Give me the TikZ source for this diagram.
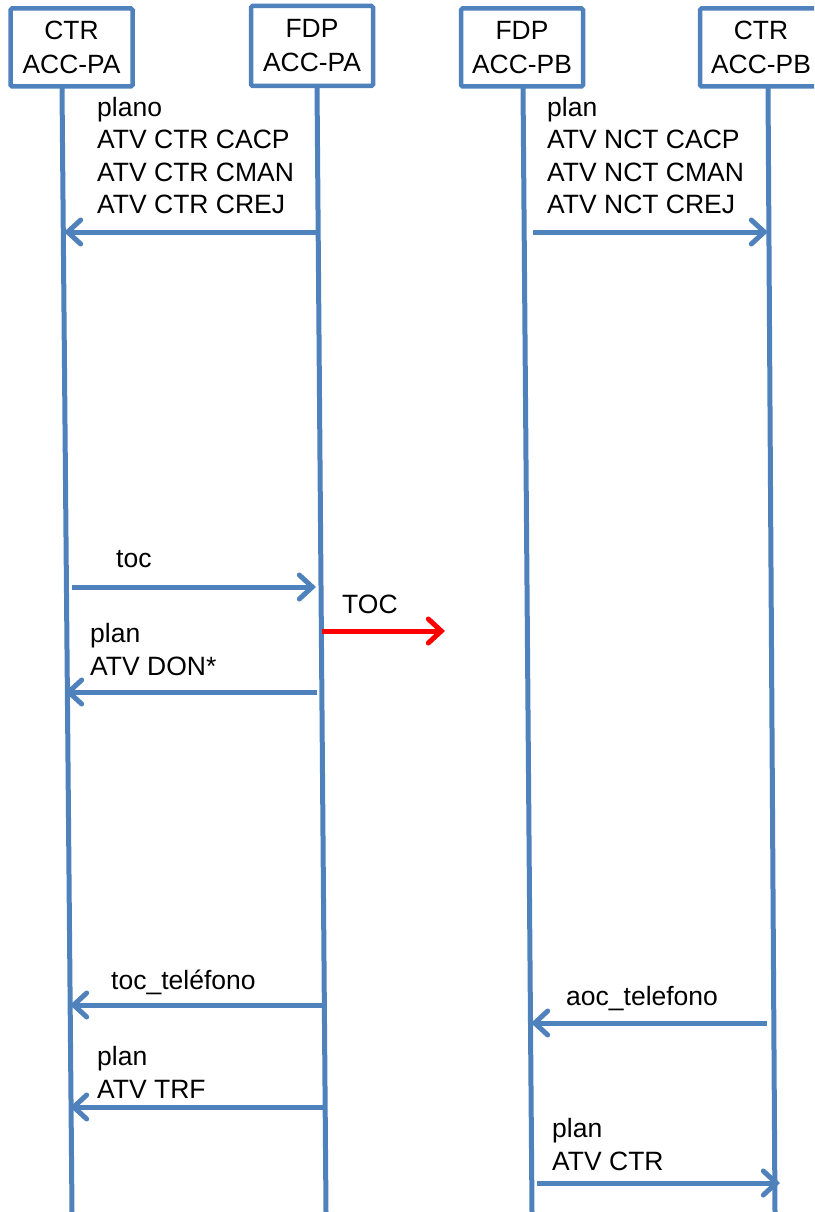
\documentclass[tikz,border=0pt]{standalone}
\usepackage{fontspec}
\setmainfont{Liberation Sans}
\usetikzlibrary{arrows.meta}
\definecolor{lblue}{HTML}{4F81BD}
\definecolor{tocred}{HTML}{FF0000}
\begin{document}
\begin{tikzpicture}[x=1pt,y=-1pt,
  actor/.style={draw=lblue, line width=4.5pt, fill=white, rounded corners=1.5pt,
    minimum width=122pt, minimum height=78pt, align=center, inner sep=0pt,
    font=\fontsize{26.4}{34}\selectfont},
  life/.style={draw=lblue, line width=5pt},
  msg/.style={draw=lblue, line width=5pt,
    -{Straight Barb[length=13pt,width=24pt,line cap=round]}},
  redmsg/.style={draw=tocred, line width=5pt,
    -{Straight Barb[length=13pt,width=24pt,line cap=round]}},
  lbl/.style={anchor=base west, align=left, inner sep=0pt,
    font=\fontsize{26.5}{32.5}\selectfont}
]
\useasboundingbox (0,0) rectangle (814,1212);
\clip (0,0) rectangle (814,1212);

% lifeline end points
\coordinate (l1t) at (62,87);   \coordinate (l1b) at (72,1212);
\coordinate (l2t) at (317,85);  \coordinate (l2b) at (326,1212);
\coordinate (l3t) at (523,85);  \coordinate (l3b) at (532,1212);
\coordinate (l4t) at (768,87);  \coordinate (l4b) at (775,1212);

\draw[life] (l1t) -- (l1b);
\draw[life] (l2t) -- (l2b);
\draw[life] (l3t) -- (l3b);
\draw[life] (l4t) -- (l4b);

% actors
\node[actor] (ctrpa) at (71.5,47.5) {CTR\\ACC-PA};
\node[actor, minimum height=80pt] (fdppa) at (312,46) {FDP\\ACC-PA};
\node[actor] (fdppb) at (522,47.5) {FDP\\ACC-PB};
\node[actor] (ctrpb) at (761,47.5) {CTR\\ACC-PB};

% message end points
\coordinate (m1s) at (318,232); \coordinate (m1e) at (64,232);
\coordinate (m2s) at (533,232); \coordinate (m2e) at (768,232);
\coordinate (m3s) at (72,587);  \coordinate (m3e) at (316,587);
\coordinate (m4s) at (322,631); \coordinate (m4e) at (445,631);
\coordinate (m5s) at (317,692); \coordinate (m5e) at (65,692);
\coordinate (m6s) at (323,1005); \coordinate (m6e) at (70,1005);
\coordinate (m7s) at (323,1107); \coordinate (m7e) at (70,1107);
\coordinate (m8s) at (767,1023); \coordinate (m8e) at (531,1023);
\coordinate (m9s) at (537,1183); \coordinate (m9e) at (780,1183);

\draw[msg] (m1s) -- (m1e);
\draw[msg] (m2s) -- (m2e);
\draw[msg] (m3s) -- (m3e);
\draw[redmsg] (m4s) -- (m4e);
\draw[msg] (m5s) -- (m5e);
\draw[msg] (m6s) -- (m6e);
\draw[msg] (m7s) -- (m7e);
\draw[msg] (m8s) -- (m8e);
\draw[msg] (m9s) -- (m9e);

% labels (base = baseline of the last line)
\node[lbl] (t1) at (97,213.5) {plano\\ATV CTR CACP\\ATV CTR CMAN\\ATV CTR CREJ};
\node[lbl] (t2) at (547,213.5) {plan\\ATV NCT CACP\\ATV NCT CMAN\\ATV NCT CREJ};
\node[lbl] (t3) at (116,567) {toc};
\node[lbl] (t4) at (342,613) {TOC};
\node[lbl] (t5) at (90,675) {plan\\ATV DON*};
\node[lbl] (t6) at (111,989) {toc\_teléfono};
\node[lbl] (t7) at (97,1098) {plan\\ATV TRF};
\node[lbl] (t8) at (566,1005) {aoc\_telefono};
\node[lbl] (t9) at (552,1170) {plan\\ATV CTR};
\end{tikzpicture}
\end{document}
